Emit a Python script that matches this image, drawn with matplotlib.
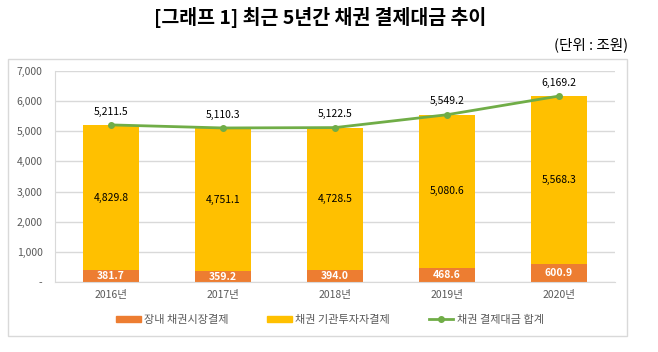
import matplotlib.pyplot as plt
from matplotlib.patches import Rectangle
from matplotlib.lines import Line2D
from matplotlib.ticker import FuncFormatter

plt.rcParams['font.family'] = ['Noto Sans CJK KR', 'DejaVu Sans']

years = ["2016년", "2017년", "2018년", "2019년", "2020년"]
exchange = [381.7, 359.2, 394.0, 468.6, 600.9]
institutional = [4829.8, 4751.1, 4728.5, 5080.6, 5568.3]
total = [5211.5, 5110.3, 5122.5, 5549.2, 6169.2]

ORANGE = "#ED7D31"
YELLOW = "#FFC000"
GREEN = "#70AD47"
GRID = "#D9D9D9"
TXT = "#595959"

fig = plt.figure(figsize=(6.58, 3.52), dpi=100)
ax = fig.add_axes([55 / 658, 1 - 282 / 352, 560 / 658, 211 / 352])

x = list(range(len(years)))
ax.bar(x, exchange, width=0.5, color=ORANGE, zorder=2)
ax.bar(x, institutional, width=0.5, bottom=exchange, color=YELLOW, zorder=2)
ax.plot(x, total, color=GREEN, lw=2, marker="o", ms=4, zorder=3)

for i in x:
    ax.text(i, exchange[i] / 2, f"{exchange[i]:,.1f}", ha="center", va="center",
            color="white", fontsize=7.5, fontweight="bold", zorder=4)
    ax.text(i, exchange[i] + institutional[i] / 2, f"{institutional[i]:,.1f}",
            ha="center", va="center", color="black", fontsize=7.5, zorder=4)
    ax.annotate(f"{total[i]:,.1f}", (i, total[i]), xytext=(0, 6), textcoords="offset points",
                ha="center", va="bottom", color="black", fontsize=7.5, zorder=4)

ax.set_xlim(-0.5, 4.5)
ax.set_ylim(0, 7000)
ax.set_yticks(range(0, 7001, 1000))
ax.yaxis.set_major_formatter(FuncFormatter(lambda v, p: "-" if v == 0 else f"{v:,.0f}"))
ax.set_xticks(x)
ax.set_xticklabels(years)
ax.tick_params(axis="both", length=0, labelsize=7.5, labelcolor=TXT)
ax.tick_params(axis="y", pad=9)
ax.tick_params(axis="x", pad=6)
ax.grid(axis="y", color=GRID, lw=1, zorder=0)
for s in ["top", "right"]:
    ax.spines[s].set_visible(False)
ax.spines["left"].set_color(GRID)
ax.spines["bottom"].set_color(GRID)

# chart frame
fig.patches.append(Rectangle((8 / 658, 1 - 336 / 352), 619 / 658, 277 / 352,
                             transform=fig.transFigure, fill=False, ec=GRID, lw=1))

fig.text(320 / 658, 1 - 18 / 352, "[그래프 1] 최근 5년간 채권 결제대금 추이", ha="center", va="center",
         fontsize=14, fontweight="bold")
fig.text(628 / 658, 1 - 45 / 352, "(단위 : 조원)", ha="right", va="center", fontsize=10.5)

handles = [
    Rectangle((0, 0), 1, 1, color=ORANGE),
    Rectangle((0, 0), 1, 1, color=YELLOW),
    Line2D([0], [0], color=GREEN, lw=2, marker="o", ms=4),
]
fig.legend(handles, ["장내 채권시장결제", "채권 기관투자자결제", "채권 결제대금 합계"],
           loc="center", bbox_to_anchor=(330 / 658, 1 - 320 / 352), ncol=3, frameon=False,
           fontsize=8, handlelength=2.2, handleheight=0.5, handletextpad=0.3, columnspacing=3.5,
           labelcolor=TXT)

fig.savefig("out.png", dpi=100)
